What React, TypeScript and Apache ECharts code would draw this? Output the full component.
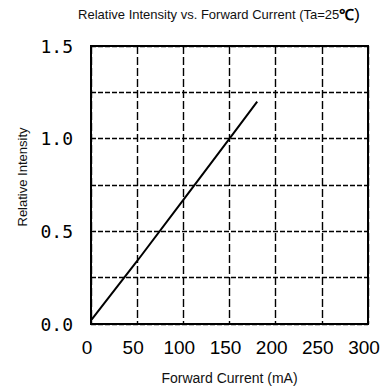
import React, { useEffect, useRef } from "react";
import * as echarts from "echarts";

// Forward current (mA) and relative luminous intensity readings
const currentMA = [0, 50, 100, 150, 180];
const relIntensity = [0.02, 0.34, 0.67, 1.0, 1.2];

const xTicks = [0, 50, 100, 150, 200, 250, 300];
const yTicks = [0, 0.5, 1.0, 1.5];

const titleText = "Relative Intensity vs. Forward Current (Ta=25";
const xName = "Forward Current (mA)";
const yName = "Relative Intensity";

export default function App() {
  const ref = useRef<HTMLDivElement>(null);

  useEffect(() => {
    if (!ref.current) return;
    const chart = echarts.init(ref.current, undefined, { renderer: "svg" });
    const points = currentMA.map((x, i) => [x, relIntensity[i]]);

    chart.setOption({
      animation: false,
      backgroundColor: "#ffffff",
      grid: {
        left: 91,
        top: 46,
        width: 277,
        height: 278,
        show: true,
        borderColor: "#000",
        borderWidth: 2,
        backgroundColor: "transparent",
      },
      xAxis: {
        type: "value",
        min: 0,
        max: 300,
        interval: 50,
        axisLine: { show: true, lineStyle: { color: "#000", width: 2 } },
        axisTick: { show: false },
        axisLabel: {
          margin: 14,
          fontFamily: "Liberation Sans",
          fontSize: 19,
          color: "#000",
          padding: [0, 8, 0, 0],
          formatter: (v: number) => (xTicks.includes(v) ? String(v) : ""),
        },
        splitLine: {
          show: true,
          lineStyle: { color: "#000", width: 1.4, type: [8, 3] },
        },
      },
      yAxis: {
        type: "value",
        min: 0,
        max: 1.5,
        interval: 0.25,
        axisLine: { show: true, lineStyle: { color: "#000", width: 2 } },
        axisTick: { show: false },
        axisLabel: {
          margin: 18,
          fontFamily: "DejaVu Sans Mono",
          fontSize: 18,
          color: "#000",
          formatter: (v: number) =>
            yTicks.some((t) => Math.abs(t - v) < 1e-6) ? v.toFixed(1) : "",
        },
        splitLine: {
          show: true,
          lineStyle: { color: "#000", width: 1.4, type: [5, 2] },
        },
      },
      graphic: [
        {
          type: "text",
          x: 219,
          y: 14,
          style: {
            text: `{t|${titleText}}{c|℃}{p|)}`,
            align: "center",
            verticalAlign: "middle",
            rich: {
              t: { fontFamily: "Liberation Sans", fontSize: 13, fontWeight: "normal", fill: "#111" },
              c: { fontFamily: "Liberation Sans", fontSize: 15, fontWeight: "bold", fill: "#000" },
              p: { fontFamily: "Liberation Sans", fontSize: 17, fontWeight: "normal", fill: "#000" },
            },
          },
        },
        {
          type: "text",
          x: 22,
          y: 177,
          rotation: Math.PI / 2,
          style: {
            text: yName,
            fontFamily: "Liberation Sans",
            fontSize: 13,
            fill: "#111",
            align: "center",
            verticalAlign: "middle",
          },
        },
        {
          type: "text",
          x: 229.5,
          y: 378,
          style: {
            text: xName,
            fontFamily: "Liberation Sans",
            fontSize: 14,
            fill: "#111",
            align: "center",
            verticalAlign: "middle",
          },
        },
      ],
      series: [
        {
          type: "line",
          data: points,
          showSymbol: false,
          symbol: "none",
          lineStyle: { color: "#000", width: 2 },
          z: 5,
        },
      ],
    });

    return () => chart.dispose();
  }, []);

  return (
    <div
      ref={ref}
      style={{ position: "absolute", left: 0, top: 0, width: 388, height: 391 }}
    />
  );
}
